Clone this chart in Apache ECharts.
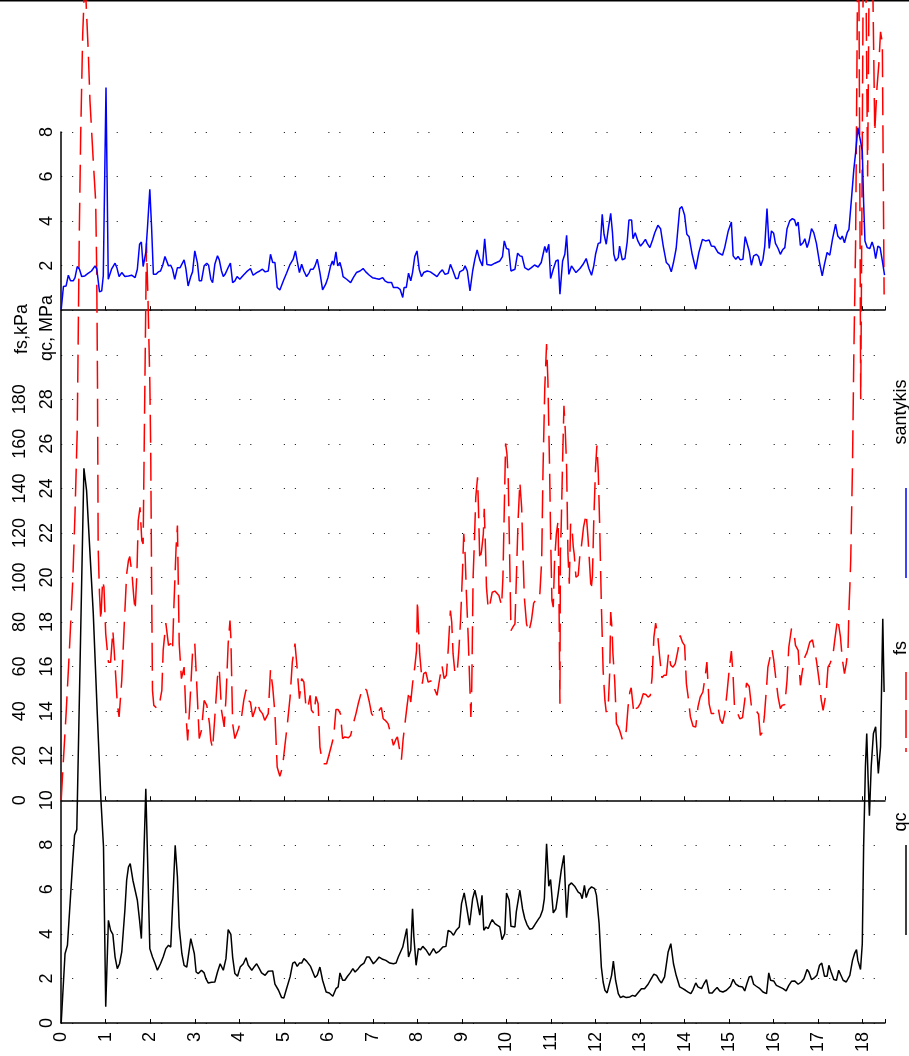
<!DOCTYPE html>
<html>
<head>
<meta charset="utf-8">
<script src="https://cdn.jsdelivr.net/npm/echarts@6/dist/echarts.min.js"></script>
<style>
html,body{margin:0;padding:0;background:#fff;}
#chart{width:909px;height:1056px;}
</style>
</head>
<body>
<div id="chart"></div>
<script>
// ---------- DATA (depth m, value) ----------
const qcProfile = [[0,0],[0.086,3.11],[0.14,3.49],[0.26,7.3],[0.30,8.43],[0.35,8.68],[0.51,24.9],[0.57,23.9],[0.72,18.4],[0.81,13.9],[0.89,10.1],[0.95,7.9],[1.00,0.73],[1.06,4.61],[1.11,4.16],[1.16,3.98],[1.21,2.96],[1.26,2.44],[1.31,2.66],[1.36,3.19],[1.43,5.06],[1.47,6.41],[1.51,7.0],[1.55,7.16],[1.61,6.41],[1.66,5.96],[1.71,5.51],[1.76,4.61],[1.80,3.79],[1.84,6.41],[1.90,10.52],[1.95,6.56],[1.99,3.34],[2.05,2.96],[2.11,2.66],[2.16,2.37],[2.23,2.66],[2.29,2.96],[2.35,3.34],[2.41,3.49],[2.46,3.41],[2.50,3.49],[2.56,7.98],[2.61,6.56],[2.65,4.31],[2.71,3.11],[2.76,2.59],[2.82,2.51],[2.86,2.59],[2.91,3.79],[2.95,3.83],[2.99,3.11],[3.03,2.29],[3.08,2.22],[3.15,2.37],[3.21,2.25],[3.25,1.99],[3.30,1.80],[3.38,1.83],[3.45,1.84],[3.51,2.29],[3.57,2.66],[3.64,2.37],[3.70,2.89],[3.75,4.19],[3.81,3.98],[3.85,2.96],[3.90,2.22],[3.96,2.10],[4.02,2.51],[4.09,2.66],[4.15,2.93],[4.20,2.59],[4.28,2.37],[4.33,2.51],[4.39,2.66],[4.45,2.44],[4.50,2.25],[4.58,2.14],[4.65,2.32],[4.75,2.34],[4.80,1.74],[4.88,1.47],[4.95,1.14],[5.00,1.12],[5.06,1.54],[5.14,2.07],[5.20,2.69],[5.25,2.74],[5.30,2.54],[5.35,2.69],[5.40,2.69],[5.45,2.89],[5.51,2.78],[5.60,2.54],[5.70,2.04],[5.75,2.14],[5.81,2.51],[5.87,1.92],[5.95,1.39],[6.02,1.35],[6.10,1.20],[6.17,1.54],[6.22,1.62],[6.26,2.25],[6.32,1.92],[6.37,1.92],[6.43,2.10],[6.49,2.25],[6.55,2.44],[6.60,2.29],[6.67,2.44],[6.73,2.59],[6.80,2.69],[6.86,2.96],[6.92,2.96],[7.01,2.66],[7.07,2.78],[7.14,2.96],[7.22,2.86],[7.29,2.81],[7.38,2.69],[7.46,2.66],[7.52,2.69],[7.57,2.96],[7.62,3.19],[7.67,3.41],[7.70,3.41],[7.76,4.24],[7.80,2.96],[7.85,3.26],[7.89,5.13],[7.92,3.86],[7.97,2.59],[8.02,3.34],[8.07,3.29],[8.12,3.44],[8.19,3.29],[8.27,3.04],[8.30,3.04],[8.36,3.34],[8.42,3.14],[8.49,3.23],[8.57,3.41],[8.64,3.44],[8.69,4.16],[8.75,4.09],[8.81,3.94],[8.87,4.16],[8.94,4.31],[8.99,5.36],[9.05,5.84],[9.11,5.13],[9.17,4.39],[9.24,5.58],[9.29,5.96],[9.34,5.51],[9.40,4.84],[9.45,5.73],[9.49,4.16],[9.54,4.31],[9.59,4.24],[9.64,4.49],[9.68,4.64],[9.74,4.46],[9.79,4.39],[9.85,4.31],[9.90,3.74],[9.96,4.01],[10.00,5.84],[10.06,5.51],[10.10,4.34],[10.19,4.31],[10.22,4.99],[10.30,5.96],[10.36,5.13],[10.41,4.69],[10.46,4.42],[10.52,4.21],[10.58,4.24],[10.63,4.39],[10.71,4.64],[10.76,4.79],[10.81,5.06],[10.85,5.58],[10.90,8.05],[10.95,6.14],[10.99,6.44],[11.05,4.94],[11.11,5.13],[11.16,5.81],[11.23,6.86],[11.29,7.53],[11.35,4.73],[11.40,6.18],[11.46,6.29],[11.53,6.14],[11.61,5.88],[11.66,5.81],[11.70,5.58],[11.75,6.18],[11.79,5.63],[11.85,5.99],[11.91,6.11],[11.98,6.03],[12.02,5.73],[12.08,4.46],[12.13,2.51],[12.17,1.84],[12.21,1.47],[12.26,1.35],[12.30,1.39],[12.36,2.14],[12.40,2.78],[12.45,1.92],[12.51,1.32],[12.56,1.14],[12.62,1.20],[12.69,1.14],[12.77,1.17],[12.83,1.24],[12.89,1.20],[12.95,1.35],[13.03,1.54],[13.10,1.54],[13.18,1.74],[13.25,1.99],[13.31,2.19],[13.37,2.14],[13.43,1.92],[13.48,1.80],[13.55,2.07],[13.63,3.19],[13.69,3.56],[13.75,2.66],[13.81,2.14],[13.89,1.62],[13.96,1.54],[14.02,1.47],[14.08,1.39],[14.14,1.32],[14.19,1.50],[14.25,1.80],[14.30,1.62],[14.38,1.54],[14.43,1.74],[14.49,1.95],[14.55,1.35],[14.62,1.35],[14.67,1.47],[14.73,1.59],[14.79,1.44],[14.86,1.39],[14.94,1.47],[15.03,1.65],[15.09,1.96],[15.15,1.74],[15.22,1.65],[15.30,1.62],[15.35,1.44],[15.40,1.77],[15.45,2.07],[15.50,2.10],[15.55,1.74],[15.61,1.65],[15.69,1.54],[15.76,1.39],[15.84,1.32],[15.89,2.25],[15.93,1.92],[16.00,1.89],[16.06,1.69],[16.13,1.62],[16.21,1.54],[16.28,1.44],[16.34,1.69],[16.40,1.87],[16.47,1.89],[16.55,1.74],[16.62,1.84],[16.68,1.99],[16.75,2.40],[16.79,2.29],[16.85,1.95],[16.92,2.04],[16.97,2.14],[17.03,2.59],[17.08,2.69],[17.14,2.10],[17.20,2.10],[17.24,2.59],[17.29,2.29],[17.35,1.95],[17.41,1.92],[17.46,2.37],[17.50,2.34],[17.56,1.92],[17.63,1.84],[17.71,2.14],[17.77,2.81],[17.82,3.14],[17.86,3.29],[17.89,2.81],[17.95,2.40],[17.99,3.56],[18.02,7.90],[18.06,11.5],[18.09,13.0],[18.12,11.0],[18.15,9.3],[18.19,11.5],[18.24,13.0],[18.29,13.3],[18.35,11.2],[18.40,12.4],[18.45,18.15],[18.48,14.86]];

const fsProfile = [[0,0],[0.03,11.2],[0.11,38.9],[0.18,65.8],[0.26,98.7],[0.31,128.6],[0.36,166],[0.406,254],[0.438,299],[0.483,344],[0.512,359],[0.535,380],[0.557,359],[0.608,336],[0.646,314],[0.72,287],[0.774,269],[0.797,239],[0.81,202],[0.815,188],[0.83,113.6],[0.86,92.7],[0.89,80.7],[0.93,98.7],[0.96,95.7],[1.00,74.7],[1.06,62],[1.11,62],[1.16,76.2],[1.19,67.3],[1.23,53.8],[1.26,43.3],[1.30,37.4],[1.36,53.8],[1.42,80.7],[1.47,101.6],[1.51,107.6],[1.54,109.4],[1.59,101.6],[1.63,91.2],[1.66,85.2],[1.70,101.6],[1.73,125.6],[1.77,131.5],[1.81,116.6],[1.84,115.1],[1.88,188],[1.915,250],[1.95,224],[1.99,188],[2.01,158],[2.03,98.7],[2.05,49.3],[2.08,42.6],[2.16,41.1],[2.22,44.8],[2.26,49.3],[2.29,67.3],[2.35,79.5],[2.41,69.5],[2.46,70.3],[2.50,67.3],[2.53,86.7],[2.58,113.6],[2.61,123.3],[2.65,70.3],[2.70,54.6],[2.76,59.8],[2.80,38.9],[2.84,26.9],[2.89,43.3],[2.95,66.5],[3.00,70.3],[3.04,53.8],[3.10,27.7],[3.15,31.4],[3.21,44.8],[3.27,42.6],[3.33,34.4],[3.36,26.9],[3.40,23.2],[3.45,37.4],[3.51,55.3],[3.55,59.0],[3.60,40.4],[3.66,32.9],[3.70,45.6],[3.75,70.3],[3.79,80.7],[3.81,73.2],[3.85,34.4],[3.90,27.7],[3.98,32.1],[4.05,37.4],[4.10,44.8],[4.15,49.6],[4.20,44.8],[4.25,44.1],[4.30,37.4],[4.35,40.4],[4.40,44.1],[4.46,40.4],[4.52,38.9],[4.57,35.9],[4.61,35.1],[4.65,38.9],[4.70,58.6],[4.75,50.8],[4.80,38.9],[4.85,14.9],[4.91,10.8],[4.97,14.9],[5.02,23.9],[5.08,34.4],[5.14,46.3],[5.19,62.0],[5.25,70.3],[5.29,61.3],[5.35,45.6],[5.40,54.6],[5.45,53.1],[5.50,41.1],[5.55,42.6],[5.59,47.1],[5.62,40.4],[5.68,38.9],[5.72,46.6],[5.77,43.3],[5.81,23.9],[5.85,18.7],[5.90,16.4],[5.96,16.4],[6.02,20.9],[6.07,24.7],[6.12,28.7],[6.17,40.7],[6.22,40.7],[6.27,38.9],[6.32,27.7],[6.37,28.4],[6.45,28.1],[6.50,29.1],[6.56,34.4],[6.62,38.9],[6.67,43.3],[6.73,47.8],[6.80,50.8],[6.86,49.3],[6.92,44.1],[6.97,38.9],[7.02,37.4],[7.08,39.6],[7.14,40.4],[7.19,41.6],[7.23,36.6],[7.29,35.6],[7.34,34.4],[7.40,29.9],[7.46,24.7],[7.52,27.5],[7.55,28.4],[7.59,23.9],[7.64,18.2],[7.68,27.7],[7.72,34.4],[7.75,39.6],[7.81,49.3],[7.85,44.1],[7.89,52.3],[7.94,59.8],[7.98,67.3],[8.00,89.7],[8.02,79.2],[8.05,65.8],[8.11,52.3],[8.14,56.8],[8.19,57.5],[8.24,53.1],[8.28,52.3],[8.34,53.8],[8.38,50.1],[8.44,47.1],[8.50,54.6],[8.55,60.5],[8.60,54.6],[8.65,56.1],[8.69,67.3],[8.74,85.2],[8.77,80.0],[8.80,65.8],[8.84,57.5],[8.89,56.8],[8.93,67.3],[8.97,81.5],[9.01,101.6],[9.04,119.6],[9.07,110.6],[9.10,92.7],[9.14,73.2],[9.18,49.3],[9.20,37.4],[9.22,50.8],[9.25,100.1],[9.28,116.6],[9.31,136.0],[9.35,145.0],[9.37,131.5],[9.40,107.6],[9.44,112.1],[9.48,119.6],[9.50,130.8],[9.53,112.1],[9.55,95.7],[9.59,85.9],[9.63,88.2],[9.68,93.4],[9.74,93.9],[9.83,91.9],[9.89,87.4],[9.92,100.1],[9.96,140.5],[9.98,160.2],[10.01,155.5],[10.04,143.5],[10.07,110.6],[10.10,76.2],[10.15,78.0],[10.19,79.2],[10.22,98.7],[10.26,125.6],[10.30,142.7],[10.34,131.5],[10.37,110.6],[10.40,91.2],[10.45,79.2],[10.50,75.5],[10.56,80.7],[10.61,88.5],[10.66,90.0],[10.71,89.7],[10.75,93.0],[10.79,107.6],[10.82,148.0],[10.86,185.4],[10.90,204.8],[10.93,188.3],[10.97,146.5],[10.99,119.6],[11.02,89.7],[11.05,86.7],[11.08,107.6],[11.12,119.6],[11.16,125.6],[11.18,88.2],[11.20,43.3],[11.21,110.6],[11.23,124.1],[11.26,152.5],[11.29,177.1],[11.32,165.9],[11.35,149.5],[11.38,110.6],[11.41,97.2],[11.44,124.1],[11.47,122.6],[11.50,113.6],[11.52,110.6],[11.56,100.1],[11.61,100.9],[11.65,110.6],[11.68,113.6],[11.73,122.6],[11.79,128.6],[11.83,118.1],[11.87,104.6],[11.90,94.2],[11.93,100.9],[11.96,125.6],[12.00,149.5],[12.03,159.2],[12.06,148.0],[12.09,125.6],[12.13,88.2],[12.17,58.3],[12.21,44.8],[12.24,39.6],[12.29,44.8],[12.32,58.3],[12.34,84.5],[12.37,77.0],[12.39,65.8],[12.43,53.8],[12.47,34.4],[12.51,32.9],[12.54,31.4],[12.60,27.4],[12.65,27.2],[12.69,31.4],[12.73,41.9],[12.77,48.6],[12.80,50.5],[12.86,38.9],[12.90,41.1],[12.95,41.6],[13.01,43.6],[13.07,47.8],[13.13,47.5],[13.18,46.3],[13.23,47.1],[13.27,55.3],[13.31,73.2],[13.35,79.5],[13.40,73.2],[13.44,64.3],[13.49,55.0],[13.54,56.1],[13.59,56.1],[13.64,66.1],[13.69,60.5],[13.74,59.8],[13.79,61.3],[13.85,67.3],[13.90,74.0],[13.95,71.0],[14.00,69.5],[14.04,52.3],[14.08,46.3],[14.13,37.4],[14.19,33.2],[14.25,32.9],[14.30,41.9],[14.35,46.3],[14.41,48.6],[14.46,55.3],[14.50,62.0],[14.55,43.3],[14.60,38.9],[14.65,38.9],[14.71,41.9],[14.76,40.7],[14.80,36.2],[14.85,34.4],[14.90,38.9],[14.95,47.8],[15.00,58.3],[15.05,67.0],[15.09,55.3],[15.12,41.9],[15.18,39.6],[15.24,36.6],[15.30,37.1],[15.35,44.8],[15.39,52.6],[15.45,51.1],[15.50,42.2],[15.55,42.6],[15.61,40.1],[15.66,38.6],[15.70,29.1],[15.75,30.6],[15.79,37.4],[15.84,50.8],[15.87,59.8],[15.91,60.5],[15.96,68.0],[16.00,63.1],[16.04,56.1],[16.10,46.3],[16.15,41.1],[16.19,42.6],[16.25,43.0],[16.30,53.8],[16.34,68.8],[16.40,77.0],[16.45,76.2],[16.49,69.5],[16.55,67.3],[16.60,51.6],[16.64,57.5],[16.70,64.3],[16.75,66.5],[16.81,71.0],[16.87,72.0],[16.91,72.0],[16.96,62.8],[17.02,53.8],[17.07,44.8],[17.11,40.4],[17.15,39.6],[17.18,48.6],[17.22,59.8],[17.27,61.6],[17.33,65.0],[17.37,71.7],[17.41,77.7],[17.44,81.5],[17.50,73.2],[17.54,63.5],[17.59,56.8],[17.63,61.3],[17.67,68.0],[17.69,85.2],[17.71,95.7],[17.73,107.6],[17.77,150],[17.80,200],[17.84,250],[17.87,330],[17.90,420],[17.93,300],[17.955,180],[17.98,260],[18.01,370],[18.04,440],[18.08,350],[18.11,280],[18.14,360],[18.18,440],[18.23,360],[18.27,300],[18.32,320],[18.36,330],[18.40,345],[18.44,340],[18.48,227]];

const ratioProfile = [[0,0.04],[0.05,1.06],[0.11,1.09],[0.16,1.57],[0.21,1.32],[0.27,1.32],[0.31,1.46],[0.36,1.96],[0.41,1.84],[0.46,1.51],[0.53,1.54],[0.61,1.66],[0.68,1.76],[0.76,1.99],[0.80,1.84],[0.86,0.82],[0.91,0.87],[0.945,1.54],[1.006,10.0],[1.057,1.39],[1.13,1.84],[1.21,2.11],[1.25,1.91],[1.30,1.51],[1.36,1.69],[1.43,1.51],[1.51,1.54],[1.58,1.57],[1.66,1.46],[1.71,1.84],[1.76,2.96],[1.80,3.06],[1.84,1.96],[1.90,2.59],[1.94,3.78],[1.99,5.43],[2.03,3.71],[2.07,1.61],[2.13,1.61],[2.18,1.72],[2.23,1.76],[2.28,2.02],[2.33,2.41],[2.37,2.41],[2.41,1.99],[2.46,2.02],[2.50,1.84],[2.55,1.39],[2.61,1.91],[2.67,1.91],[2.70,1.84],[2.76,2.26],[2.80,1.87],[2.85,1.09],[2.91,1.51],[2.95,1.72],[3.00,2.66],[3.06,2.11],[3.10,1.32],[3.15,1.32],[3.21,1.99],[3.27,2.11],[3.31,2.02],[3.36,1.39],[3.40,1.24],[3.45,2.06],[3.51,2.44],[3.55,2.26],[3.60,1.76],[3.64,1.51],[3.68,1.61],[3.71,1.69],[3.76,1.96],[3.80,2.11],[3.85,1.24],[3.90,1.32],[3.95,1.51],[4.01,1.39],[4.09,1.57],[4.16,1.72],[4.20,1.76],[4.25,1.87],[4.31,1.57],[4.39,1.69],[4.46,1.76],[4.52,1.84],[4.58,1.72],[4.65,1.76],[4.70,2.51],[4.75,2.14],[4.80,2.14],[4.85,1.02],[4.91,0.91],[4.99,1.32],[5.06,1.66],[5.14,2.06],[5.21,2.29],[5.26,2.66],[5.30,2.21],[5.35,1.69],[5.40,2.06],[5.45,1.76],[5.51,1.51],[5.57,1.69],[5.60,1.84],[5.66,1.84],[5.70,1.99],[5.75,2.29],[5.81,1.69],[5.87,0.91],[5.94,1.17],[5.99,1.46],[6.05,1.99],[6.09,2.21],[6.12,2.02],[6.17,2.62],[6.21,1.99],[6.26,2.14],[6.30,1.84],[6.33,1.51],[6.41,1.39],[6.50,1.24],[6.56,1.46],[6.63,1.69],[6.71,1.76],[6.78,1.87],[6.84,1.72],[6.92,1.57],[6.99,1.46],[7.07,1.42],[7.14,1.39],[7.22,1.46],[7.27,1.32],[7.34,1.24],[7.42,1.24],[7.46,1.02],[7.55,1.02],[7.61,0.94],[7.67,0.57],[7.70,1.02],[7.75,1.02],[7.80,1.66],[7.85,1.32],[7.89,1.69],[7.94,2.41],[7.99,2.66],[8.04,1.84],[8.09,1.51],[8.14,1.69],[8.22,1.76],[8.29,1.72],[8.37,1.61],[8.44,1.51],[8.50,1.69],[8.56,1.81],[8.62,1.61],[8.69,1.66],[8.74,2.06],[8.80,1.76],[8.86,1.42],[8.91,1.42],[8.95,1.72],[9.03,1.81],[9.07,1.99],[9.12,1.76],[9.18,0.87],[9.24,1.76],[9.29,2.29],[9.34,2.71],[9.40,2.26],[9.46,1.99],[9.51,3.21],[9.56,2.05],[9.66,2.02],[9.74,2.11],[9.85,2.21],[9.91,2.41],[9.95,3.11],[10.00,2.77],[10.05,2.74],[10.10,1.76],[10.19,1.84],[10.25,2.56],[10.30,2.44],[10.35,2.41],[10.41,1.91],[10.49,1.81],[10.56,1.91],[10.63,2.03],[10.71,1.94],[10.78,2.14],[10.86,2.86],[10.90,2.59],[10.95,2.96],[10.99,1.42],[11.05,1.84],[11.11,2.21],[11.16,2.26],[11.20,0.72],[11.26,2.21],[11.31,2.51],[11.35,3.36],[11.40,1.61],[11.46,1.99],[11.56,1.69],[11.65,1.87],[11.72,2.06],[11.76,1.99],[11.79,2.32],[11.85,1.87],[11.91,1.57],[11.96,1.99],[12.00,2.51],[12.06,3.00],[12.11,3.03],[12.15,4.30],[12.19,3.41],[12.24,2.96],[12.29,3.71],[12.34,4.35],[12.38,3.48],[12.41,2.51],[12.45,2.21],[12.51,2.36],[12.54,2.88],[12.60,2.26],[12.66,2.32],[12.71,3.06],[12.75,4.05],[12.81,4.05],[12.84,3.21],[12.89,3.48],[12.95,3.11],[13.01,2.88],[13.07,3.03],[13.12,3.18],[13.16,3.00],[13.22,2.81],[13.28,3.15],[13.33,3.48],[13.40,3.81],[13.46,3.66],[13.52,2.88],[13.59,2.14],[13.65,2.02],[13.70,1.72],[13.75,2.14],[13.81,2.77],[13.89,4.56],[13.94,4.65],[14.00,4.26],[14.05,3.41],[14.10,3.30],[14.17,2.51],[14.25,1.84],[14.32,2.59],[14.40,3.18],[14.47,3.11],[14.55,3.15],[14.60,2.88],[14.67,2.86],[14.75,2.59],[14.85,2.47],[14.90,2.81],[14.98,3.56],[15.05,3.96],[15.09,2.44],[15.15,2.29],[15.20,2.41],[15.25,2.26],[15.31,2.29],[15.36,3.30],[15.40,3.33],[15.45,2.66],[15.50,2.02],[15.55,2.44],[15.61,2.51],[15.66,2.41],[15.71,1.99],[15.76,2.29],[15.80,2.88],[15.85,4.56],[15.90,2.77],[15.95,3.56],[16.00,3.45],[16.04,3.00],[16.10,2.77],[16.15,2.51],[16.20,2.71],[16.25,2.81],[16.30,3.66],[16.36,4.01],[16.42,4.11],[16.47,4.05],[16.51,3.78],[16.55,3.96],[16.60,2.91],[16.66,3.03],[16.70,3.21],[16.75,2.81],[16.79,3.06],[16.85,3.66],[16.90,3.48],[16.96,3.00],[17.03,2.14],[17.09,1.54],[17.14,2.06],[17.20,2.59],[17.26,2.47],[17.32,3.18],[17.39,3.86],[17.44,3.33],[17.50,3.18],[17.54,3.33],[17.59,3.03],[17.65,3.48],[17.69,3.63],[17.74,4.83],[17.80,6.32],[17.84,7.07],[17.89,8.19],[17.95,7.59],[17.99,7.14],[18.02,4.83],[18.05,3.11],[18.10,2.81],[18.16,2.77],[18.21,3.06],[18.25,2.81],[18.29,2.32],[18.34,2.88],[18.39,2.81],[18.44,2.21],[18.49,1.57]];

// tick labels
const depthTicks = [0,1,2,3,4,5,6,7,8,9,10,11,12,13,14,15,16,17,18];
const qcTicks = [0,2,4,6,8,10,12,14,16,18,20,22,24,26,28];
const fsTicks = [0,20,40,60,80,100,120,140,160,180];
const ratioTicks = [2,4,6,8];

// ---------- LAYOUT ----------
const FONT = "'Liberation Sans', Arial, sans-serif";
const gridTop = 132, gridBottom = 33;
const plotH = 1056 - gridTop - gridBottom;
const QC_MAX = 40;          // common vertical scale expressed in qc units
const RATIO_SHIFT = 32;     // santykis 0 sits at qc = 32
const FS_SHIFT = 10;        // fs 0 sits at qc = 10

const chart = echarts.init(document.getElementById('chart'), null, {renderer: 'canvas'});

function depthAxis(offset, showLabels) {
  return {
    type: 'value', min: 0, max: 18.5, interval: 1, position: 'bottom', offset: offset,
    axisLine: {show: true, onZero: false, lineStyle: {color: '#000', width: 1.5}},
    axisTick: {show: true, inside: true, length: 4, lineStyle: {color: '#000', width: 1}},
    axisLabel: {
      show: showLabels, rotate: 90, margin: 9, color: '#000', fontFamily: FONT, fontSize: 18,
      formatter: v => depthTicks.includes(v) ? String(v) : ''
    },
    splitLine: {show: false}
  };
}

const option = {
  animation: false,
  backgroundColor: '#fff',
  grid: {left: 61.2, right: 24, top: gridTop, bottom: gridBottom, containLabel: false},
  xAxis: [
    depthAxis(0, true),
    depthAxis(-plotH * FS_SHIFT / QC_MAX, false),
    depthAxis(-plotH * RATIO_SHIFT / QC_MAX, false)
  ],
  yAxis: [
    {
      type: 'value', min: 0, max: QC_MAX, interval: 2, position: 'left',
      axisLine: {show: true, onZero: false, lineStyle: {color: '#000', width: 1.5}},
      axisTick: {show: false},
      axisLabel: {
        rotate: 90, margin: 5, color: '#000', fontFamily: FONT, fontSize: 18,
        formatter: v => {
          if (qcTicks.includes(v)) return String(v);
          if (ratioTicks.includes(v - RATIO_SHIFT)) return String(v - RATIO_SHIFT);
          return '';
        }
      },
      splitLine: {show: true, lineStyle: {color: '#000', width: 1, type: [1, 10, 1, 32.53]}}
    },
    {
      type: 'value', min: -FS_SHIFT * 10, max: (QC_MAX - FS_SHIFT) * 10, interval: 20, position: 'left', offset: 27,
      axisLine: {show: false, onZero: false}, axisTick: {show: false},
      axisLabel: {
        rotate: 90, margin: 5, color: '#000', fontFamily: FONT, fontSize: 18,
        formatter: v => fsTicks.includes(v) ? String(v) : ''
      },
      splitLine: {show: false}
    },
    {
      type: 'value', min: -RATIO_SHIFT, max: QC_MAX - RATIO_SHIFT, show: false,
      axisLine: {onZero: false}, splitLine: {show: false}
    }
  ],
  series: [
    {
      name: 'qc', type: 'line', xAxisIndex: 0, yAxisIndex: 0, data: qcProfile,
      symbol: 'none', showSymbol: false, clip: false, z: 3,
      lineStyle: {color: '#000', width: 1.5}, itemStyle: {color: '#000'}
    },
    {
      name: 'fs', type: 'line', xAxisIndex: 0, yAxisIndex: 1, data: fsProfile,
      symbol: 'none', showSymbol: false, clip: false, z: 4,
      lineStyle: {color: '#ff0000', width: 1.5, type: [28, 10]}, itemStyle: {color: '#ff0000'}
    },
    {
      name: 'santykis', type: 'line', xAxisIndex: 0, yAxisIndex: 2, data: ratioProfile,
      symbol: 'none', showSymbol: false, clip: false, z: 5,
      lineStyle: {color: '#0000ff', width: 1.5}, itemStyle: {color: '#0000ff'}
    }
  ],
  graphic: [
    {type: 'line', shape: {x1: 0, y1: 0.75, x2: 909, y2: 0.75}, style: {stroke: '#000', lineWidth: 1.5}, silent: true},
    {type: 'text', x: 22, y: 329, rotation: Math.PI / 2,
     style: {text: 'fs,kPa', fontFamily: FONT, fontSize: 18, fill: '#000', align: 'center', verticalAlign: 'middle'}},
    {type: 'text', x: 47, y: 328, rotation: Math.PI / 2,
     style: {text: 'qc, MPa', fontFamily: FONT, fontSize: 18, fill: '#000', align: 'center', verticalAlign: 'middle'}},
    // legend
    {type: 'text', x: 901, y: 412, rotation: Math.PI / 2,
     style: {text: 'santykis', fontFamily: FONT, fontSize: 18, fill: '#000', align: 'center', verticalAlign: 'middle'}},
    {type: 'line', shape: {x1: 906, y1: 488, x2: 906, y2: 578}, style: {stroke: '#0000ff', lineWidth: 1.5}},
    {type: 'text', x: 901, y: 648, rotation: Math.PI / 2,
     style: {text: 'fs', fontFamily: FONT, fontSize: 18, fill: '#000', align: 'center', verticalAlign: 'middle'}},
    {type: 'line', shape: {x1: 906, y1: 672, x2: 906, y2: 752}, style: {stroke: '#ff0000', lineWidth: 1.5, lineDash: [28, 10]}},
    {type: 'text', x: 901, y: 822, rotation: Math.PI / 2,
     style: {text: 'qc', fontFamily: FONT, fontSize: 18, fill: '#000', align: 'center', verticalAlign: 'middle'}},
    {type: 'line', shape: {x1: 906, y1: 845, x2: 906, y2: 935}, style: {stroke: '#000', lineWidth: 1.5}}
  ]
};
chart.setOption(option);
</script>
</body>
</html>
